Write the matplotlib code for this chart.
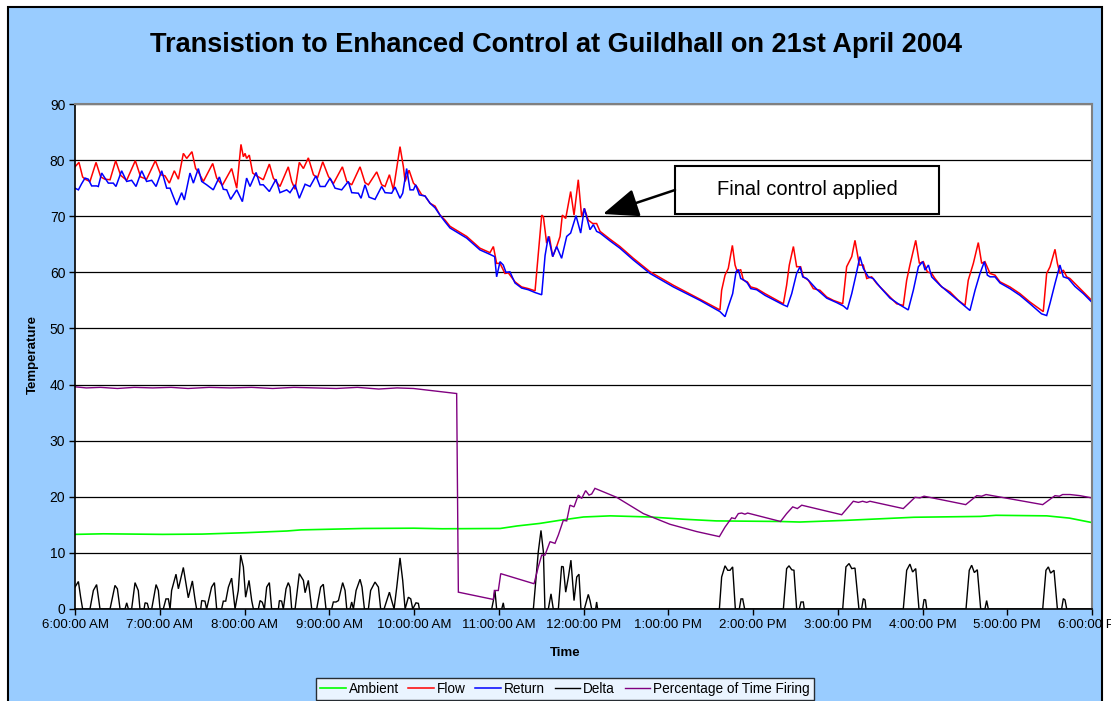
import matplotlib
matplotlib.use("Agg")
import matplotlib.pyplot as plt
import matplotlib.patches as mpatches

plt.rcParams["font.family"] = ["Liberation Sans", "DejaVu Sans"]

# time axis: minutes after 6:00 AM
HOUR_TICKS = [0, 60, 120, 180, 240, 300, 360, 420, 480, 540, 600, 660, 720]
HOUR_LABELS = [
    "6:00:00 AM", "7:00:00 AM", "8:00:00 AM", "9:00:00 AM", "10:00:00 AM",
    "11:00:00 AM", "12:00:00 PM", "1:00:00 PM", "2:00:00 PM", "3:00:00 PM",
    "4:00:00 PM", "5:00:00 PM", "6:00:00 PM",
]
TEMP_TICKS = [0, 10, 20, 30, 40, 50, 60, 70, 80, 90]

# (minute, value) pairs
ambient = [
    (0, 13.3), (20, 13.4), (62, 13.3), (90, 13.35), (121, 13.6), (150, 13.9),
    (160, 14.1), (204, 14.35), (240, 14.4), (260, 14.3), (301, 14.35),
    (313, 14.8), (329, 15.25), (343, 15.8), (360, 16.4), (379, 16.6),
    (407, 16.4), (431, 16.0), (454, 15.7), (499, 15.6), (513, 15.5),
    (546, 15.8), (594, 16.35), (641, 16.5), (652, 16.7), (688, 16.6),
    (704, 16.2), (720, 15.4),
]

flow = [
    (0.0, 78.8), (2.8, 79.6), (5.4, 77.0), (7.1, 76.6), (10.6, 76.2), (14.9, 79.6),
    (18.2, 77.0), (21.2, 76.6), (24.8, 76.5), (28.8, 79.9), (32.3, 77.3), (36.6, 76.4),
    (42.7, 79.9), (46.5, 77.0), (50.7, 76.6), (56.9, 79.9), (60.7, 77.4), (63.7, 77.2),
    (66.8, 75.9), (70.3, 78.1), (73.2, 76.6), (76.7, 81.2), (79.1, 80.3), (82.8, 81.5),
    (85.4, 78.5), (87.3, 77.9), (90.9, 76.2), (97.5, 79.4), (100.3, 76.8), (104.3, 75.5),
    (110.9, 78.5), (114.5, 75.0), (117.5, 82.8), (119.2, 80.6), (120.4, 81.2),
    (121.5, 80.3), (123.4, 80.9), (125.8, 77.7), (128.6, 77.2), (133.3, 76.5),
    (137.6, 79.3), (140.4, 76.8), (145.1, 75.3), (151.0, 78.8), (153.4, 76.2),
    (155.8, 74.8), (158.8, 79.6), (161.7, 78.5), (165.2, 80.4), (168.8, 77.4),
    (171.6, 76.8), (175.4, 79.7), (179.4, 77.1), (182.9, 75.8), (189.3, 78.8),
    (192.4, 76.2), (195.9, 75.6), (201.8, 78.8), (205.3, 76.0), (207.7, 75.6),
    (213.6, 77.9), (217.1, 75.6), (219.5, 75.3), (222.6, 77.4), (225.4, 74.7),
    (230.1, 82.4), (232.5, 78.8), (233.7, 76.2), (236.5, 78.2), (239.6, 75.9),
    (241.9, 75.3), (245.5, 73.8), (247.8, 73.6), (251.4, 72.3), (254.9, 71.8),
    (258.4, 70.2), (262.0, 69.3), (265.5, 68.2), (277.3, 66.4), (286.7, 64.3),
    (293.8, 63.5), (296.2, 64.6), (298.5, 61.6), (300.9, 61.6), (304.4, 59.8),
    (306.8, 59.9), (311.5, 58.3), (316.2, 57.4), (320.9, 57.1), (325.7, 56.7),
    (330.4, 70.2), (331.6, 69.9), (333.9, 65.2), (335.8, 66.4), (338.2, 62.8),
    (341.0, 64.6), (343.4, 66.4), (345.0, 70.2), (347.4, 69.6), (350.9, 74.4),
    (353.3, 70.2), (356.3, 76.5), (358.7, 69.9), (360.6, 71.4), (363.4, 69.3),
    (366.5, 68.7), (369.3, 68.7), (371.7, 67.3), (378.8, 65.9), (385.8, 64.6),
    (395.3, 62.5), (407.1, 60.1), (423.6, 57.7), (442.5, 55.2), (456.6, 53.3),
    (457.8, 56.8), (460.2, 59.5), (462.5, 60.7), (465.4, 64.8), (467.3, 61.3),
    (468.9, 60.1), (471.3, 60.5), (473.2, 58.6), (476.0, 58.3), (478.4, 57.4),
    (482.6, 57.1), (488.5, 56.2), (501.5, 54.4), (503.8, 57.7), (505.7, 61.3),
    (508.6, 64.6), (510.9, 61.0), (513.7, 61.0), (515.6, 59.2), (519.2, 58.6),
    (522.7, 57.1), (527.4, 56.8), (532.2, 55.6), (536.9, 55.0), (543.5, 54.4),
    (546.3, 61.0), (549.9, 62.8), (552.2, 65.7), (555.3, 61.3), (558.1, 61.3),
    (560.5, 58.9), (564.0, 59.2), (567.6, 58.0), (572.3, 56.8), (577.0, 55.6),
    (581.7, 54.4), (586.4, 54.1), (588.8, 58.6), (591.1, 61.3), (595.2, 65.7),
    (597.8, 61.6), (600.6, 61.9), (603.4, 60.1), (606.5, 59.8), (608.8, 58.9),
    (613.6, 57.4), (619.5, 56.5), (625.4, 55.0), (630.1, 54.1), (632.4, 58.6),
    (636.0, 61.6), (639.5, 65.3), (641.9, 61.6), (644.2, 61.9), (647.8, 59.8),
    (651.3, 59.5), (654.9, 58.3), (661.9, 57.4), (669.0, 56.2), (676.1, 54.7),
    (685.5, 53.0), (687.9, 59.8), (690.3, 61.0), (693.8, 64.1), (695.5, 61.6),
    (697.3, 59.8), (699.7, 60.4), (702.1, 59.2), (704.4, 58.9), (709.1, 57.7),
    (713.9, 56.5), (719.8, 55.0),
]

ret = [
    (0.0, 75.0), (2.4, 74.7), (4.7, 75.8), (7.1, 76.8), (9.4, 76.6), (11.8, 75.4),
    (15.3, 75.4), (16.5, 75.3), (18.9, 77.7), (21.2, 76.8), (23.6, 75.9), (27.1, 75.9),
    (29.0, 75.3), (33.0, 78.1), (36.6, 76.2), (40.1, 76.4), (43.2, 75.3), (47.2, 78.1),
    (50.7, 76.2), (54.3, 76.4), (57.4, 75.3), (61.4, 78.1), (64.9, 75.0), (67.3, 75.0),
    (69.6, 73.5), (72.0, 72.0), (75.5, 74.2), (77.4, 72.9), (81.4, 77.7), (83.8, 75.9),
    (87.3, 78.5), (89.7, 76.2), (93.2, 75.6), (97.9, 74.7), (102.2, 77.0), (105.0, 74.8),
    (107.4, 74.7), (110.2, 73.0), (114.5, 74.7), (118.5, 72.6), (121.5, 76.8),
    (123.9, 75.3), (128.2, 77.8), (131.0, 75.6), (133.3, 75.6), (137.6, 74.4),
    (142.3, 76.6), (145.1, 74.2), (149.9, 74.7), (152.2, 74.2), (155.8, 75.6),
    (158.8, 73.2), (162.9, 75.7), (166.4, 75.3), (170.6, 77.2), (173.5, 75.3),
    (177.0, 75.3), (180.6, 76.8), (184.1, 75.0), (188.8, 74.7), (193.5, 76.2),
    (195.9, 74.2), (200.6, 74.1), (202.5, 73.2), (205.3, 75.6), (208.2, 73.4),
    (212.4, 73.0), (217.1, 75.3), (219.5, 74.2), (224.2, 74.1), (226.6, 75.2),
    (230.1, 73.2), (232.0, 74.1), (234.8, 78.5), (237.2, 74.7), (239.6, 74.7),
    (241.2, 75.6), (243.8, 73.8), (247.8, 73.6), (251.4, 72.3), (254.9, 71.5),
    (258.4, 70.2), (262.0, 69.0), (265.5, 67.9), (277.3, 66.1), (286.7, 64.0),
    (293.8, 63.2), (297.1, 62.8), (298.5, 59.2), (300.9, 61.9), (303.2, 61.3),
    (305.1, 60.0), (307.9, 60.1), (311.5, 58.1), (316.2, 57.2), (320.9, 56.9),
    (325.7, 56.4), (330.4, 56.0), (332.8, 63.0), (335.1, 66.4), (338.2, 62.8),
    (341.0, 64.6), (344.5, 62.5), (348.1, 66.4), (350.9, 67.0), (354.7, 70.1),
    (358.0, 67.0), (360.6, 71.4), (362.2, 69.9), (364.6, 67.6), (367.0, 68.5),
    (369.3, 67.3), (371.7, 67.0), (378.8, 65.6), (385.8, 64.3), (395.3, 62.2),
    (407.1, 59.8), (423.6, 57.4), (442.5, 55.0), (456.6, 53.0), (460.2, 52.1),
    (462.5, 53.9), (465.6, 56.2), (468.0, 60.1), (469.6, 60.5), (471.3, 58.9),
    (473.7, 58.6), (476.0, 58.1), (478.4, 57.1), (482.6, 56.9), (488.5, 55.9),
    (501.5, 54.2), (504.3, 53.9), (507.4, 56.2), (510.9, 59.8), (513.3, 61.0),
    (515.2, 59.2), (518.0, 58.9), (520.3, 58.3), (525.0, 57.0), (532.2, 55.4),
    (539.3, 54.6), (544.0, 54.0), (546.8, 53.4), (549.9, 56.2), (553.4, 60.1),
    (555.7, 62.8), (558.1, 60.7), (561.6, 59.2), (565.1, 58.9), (569.9, 57.4),
    (577.0, 55.4), (584.0, 54.2), (589.9, 53.3), (593.5, 56.8), (597.1, 61.0),
    (600.1, 61.9), (601.8, 60.4), (604.2, 61.3), (606.5, 59.2), (612.4, 57.7),
    (619.5, 56.2), (626.6, 54.7), (633.6, 53.2), (637.2, 56.8), (640.7, 59.8),
    (643.8, 61.9), (645.9, 59.5), (647.8, 59.2), (651.3, 59.2), (654.9, 58.1),
    (661.9, 57.1), (669.0, 55.9), (676.1, 54.4), (684.3, 52.6), (687.9, 52.3),
    (690.3, 54.5), (693.8, 58.0), (697.3, 61.3), (699.7, 59.2), (703.2, 58.9),
    (707.9, 57.5), (713.9, 56.2), (719.8, 54.7),
]

delta = [
    (0.0, 3.9), (2.4, 4.9), (4.0, 2.1), (5.4, 0), (10.6, 0), (13.0, 3.3), (15.3, 4.35),
    (17.7, 0), (24.8, 0), (28.3, 4.2), (30.0, 3.6), (31.9, 0), (35.4, 0), (36.6, 1.1),
    (37.8, 0), (40.1, 0), (42.5, 4.7), (44.8, 3.3), (46.0, 0), (48.9, 0), (49.6, 1.1),
    (51.2, 1.0), (52.2, 0), (54.3, 0), (57.4, 4.35), (59.0, 3.3), (60.2, 0), (62.5, 0),
    (64.4, 1.8), (66.1, 1.8), (67.3, 0), (68.4, 3.3), (71.5, 6.2), (73.2, 3.6),
    (76.7, 7.4), (80.2, 2.0), (83.1, 5.0), (85.0, 1.6), (86.1, 0), (89.0, 0),
    (89.7, 1.5), (92.0, 1.4), (93.2, 0), (96.7, 3.9), (98.7, 4.7), (100.3, 0),
    (103.8, 0), (105.0, 1.4), (106.7, 1.4), (108.6, 3.9), (110.9, 5.5), (113.3, 0),
    (115.6, 3.3), (117.3, 9.6), (119.2, 7.5), (120.8, 2.1), (123.2, 5.1), (125.1, 1.5),
    (126.3, 0), (129.8, 0), (131.0, 1.5), (132.6, 1.2), (134.1, 0), (135.7, 3.9),
    (137.6, 4.7), (139.2, 0), (144.0, 0), (144.7, 1.5), (146.3, 1.4), (147.5, 0),
    (149.4, 3.6), (151.0, 4.7), (152.2, 3.9), (153.4, 0), (155.8, 0), (158.8, 6.3),
    (161.7, 5.1), (162.9, 2.9), (165.2, 5.1), (167.6, 0), (171.1, 0), (173.9, 3.9),
    (175.8, 4.4), (177.7, 0), (181.7, 0), (182.9, 1.25), (184.8, 1.25), (186.5, 1.5),
    (189.5, 4.7), (191.2, 3.3), (192.4, 0), (194.7, 0), (195.9, 1.25), (197.1, 0),
    (199.0, 3.3), (201.8, 5.3), (203.2, 3.9), (204.9, 0), (207.7, 0), (209.3, 3.3),
    (212.4, 4.8), (214.8, 3.9), (216.4, 0), (218.8, 0), (222.6, 3.0), (224.2, 1.5),
    (225.9, 0), (227.8, 3.9), (230.1, 9.1), (232.0, 5.1), (233.7, 0), (236.0, 2.1),
    (237.7, 1.8), (239.1, 0), (241.4, 1.1), (243.1, 1.0), (243.8, 0), (295.0, 0),
    (296.2, 1.5), (297.3, 3.3), (298.5, 0), (302.1, 0), (303.2, 1.1), (303.9, 0),
    (324.5, 0), (328.0, 10.2), (329.9, 14.0), (331.6, 10.2), (332.7, 0), (335.1, 0),
    (337.0, 2.7), (338.6, 0), (342.2, 0), (344.5, 7.6), (345.7, 7.5), (347.4, 3.0),
    (349.3, 5.7), (351.1, 8.7), (353.3, 1.5), (355.2, 5.7), (356.8, 6.2), (358.2, 0),
    (360.6, 0), (363.4, 2.6), (364.6, 1.5), (365.8, 0), (368.6, 0), (369.3, 1.25),
    (370.0, 0), (456.2, 0), (457.8, 5.7), (460.2, 7.7), (462.1, 6.9), (463.7, 6.9),
    (465.6, 7.5), (467.5, 0), (470.3, 0), (471.5, 1.8), (472.7, 1.8), (474.1, 0),
    (501.5, 0), (503.8, 7.2), (505.5, 7.7), (507.4, 7.0), (509.0, 6.9), (510.9, 0),
    (512.8, 0), (514.0, 1.25), (515.6, 1.25), (516.3, 0), (543.5, 0), (545.8, 7.5),
    (548.0, 8.1), (549.9, 7.2), (552.2, 7.3), (555.0, 0), (556.9, 0), (558.1, 1.85),
    (559.3, 1.6), (560.0, 0), (586.4, 0), (588.8, 6.9), (591.1, 8.0), (593.0, 6.6),
    (595.2, 7.2), (597.5, 0), (600.1, 0), (601.1, 1.7), (602.2, 1.6), (603.0, 0),
    (630.8, 0), (633.1, 6.9), (634.8, 7.8), (636.7, 6.5), (638.8, 7.0), (641.2, 0),
    (644.2, 0), (645.4, 1.5), (646.6, 0), (685.1, 0), (687.4, 6.9), (689.1, 7.5),
    (690.7, 6.4), (693.1, 6.9), (695.5, 0), (698.5, 0), (699.7, 1.85), (700.9, 1.6),
    (702.1, 0), (720, 0),
]

firing = [
    (0, 39.6), (8, 39.4), (18, 39.5), (30, 39.3), (42, 39.5), (55, 39.4), (68, 39.5),
    (80, 39.3), (95, 39.5), (110, 39.4), (125, 39.5), (140, 39.3), (155, 39.5),
    (170, 39.4), (185, 39.3), (200, 39.5), (215, 39.2), (228, 39.4), (239.6, 39.3),
    (270.2, 38.4), (271.4, 3.0), (296.2, 1.7), (296.9, 3.3), (299.7, 3.3), (301.4, 6.3),
    (325.0, 4.5), (328.0, 7.5), (330.4, 9.6), (332.7, 9.6), (336.3, 12.0),
    (339.8, 11.7), (342.2, 13.2), (345.7, 15.8), (348.1, 15.7), (350.4, 18.5),
    (353.3, 18.2), (356.3, 20.3), (358.7, 19.7), (361.5, 21.1), (363.9, 20.3),
    (365.8, 20.5), (368.1, 21.5), (383.5, 19.9), (402.4, 17.0), (421.2, 15.1),
    (440.1, 13.8), (456.2, 12.9), (460.2, 14.6), (464.9, 16.25), (467.3, 16.1),
    (469.6, 17.0), (472.0, 17.1), (474.3, 16.9), (476.2, 17.1), (499.5, 15.6),
    (503.8, 17.0), (508.1, 18.2), (511.4, 17.9), (514.5, 18.5), (542.8, 16.8),
    (551.0, 19.2), (554.6, 19.0), (557.6, 19.2), (560.5, 19.0), (562.8, 19.2),
    (586.4, 17.9), (594.7, 19.9), (598.2, 19.8), (601.1, 20.1), (630.6, 18.6),
    (638.4, 20.2), (641.9, 20.1), (645.0, 20.4), (685.1, 18.6), (693.8, 20.2),
    (696.9, 20.1), (699.2, 20.4), (704.4, 20.4), (711.5, 20.2), (719.8, 19.8),
]

SERIES = [
    ("Ambient", ambient, "#00ff00", 1.2),
    ("Flow", flow, "#ff0000", 1.1),
    ("Return", ret, "#0000ff", 1.1),
    ("Delta", delta, "#000000", 1.0),
    ("Percentage of Time Firing", firing, "#800080", 1.0),
]

fig = plt.figure(figsize=(11.11, 7.01), dpi=100)
fig.patch.set_facecolor("white")

# light blue chart area with black border
chart_bg = mpatches.Rectangle(
    (8 / 1111, -0.05), (1102 - 8) / 1111, 1.05 - 7 / 701,
    transform=fig.transFigure, facecolor="#99ccff", edgecolor="black",
    linewidth=1.5, zorder=-10,
)
fig.patches.append(chart_bg)

ax = fig.add_axes([75 / 1111, 92 / 701, 1017 / 1111, 505 / 701])
ax.set_facecolor("white")

for name, pts, color, lw in SERIES:
    xs = [p[0] for p in pts]
    ys = [p[1] for p in pts]
    ax.plot(xs, ys, color=color, lw=lw, label=name, solid_joinstyle="miter")

ax.set_xlim(0, 720)
ax.set_ylim(0, 90)
ax.set_xticks(HOUR_TICKS)
ax.set_xticklabels(HOUR_LABELS, fontsize=9.5)
ax.set_yticks(TEMP_TICKS)
ax.set_yticklabels([str(t) for t in TEMP_TICKS], fontsize=10)
ax.tick_params(axis="both", direction="out", length=4, width=1, pad=3, colors="black")
ax.yaxis.grid(True, color="black", lw=0.9)
ax.set_axisbelow(True)

ax.spines["left"].set_color("black")
ax.spines["bottom"].set_color("black")
ax.spines["left"].set_linewidth(1.2)
ax.spines["bottom"].set_linewidth(1.2)
ax.spines["top"].set_color("#808080")
ax.spines["right"].set_color("#808080")
ax.spines["top"].set_linewidth(1.5)
ax.spines["right"].set_linewidth(1.5)
ax.spines["top"].set_zorder(5)

fig.text(0.5, 1 - 45 / 701, "Transistion to Enhanced Control at Guildhall on 21st April 2004",
         ha="center", va="center", fontsize=19.5, fontweight="bold")
fig.text(33 / 1111, 1 - 355 / 701, "Temperature", rotation=90,
         ha="center", va="center", fontsize=9.5, fontweight="bold")
fig.text(565 / 1111, 1 - 653 / 701, "Time", ha="center", va="center",
         fontsize=9.5, fontweight="bold")

# annotation box + arrow
bx0, bx1 = (675 - 75) / 1017, (939 - 75) / 1017
by0, by1 = (609 - 214) / 505, (609 - 166) / 505
box = mpatches.Rectangle((bx0, by0), bx1 - bx0, by1 - by0, transform=ax.transAxes,
                         facecolor="white", edgecolor="black", lw=1.5, zorder=6)
ax.add_patch(box)
ax.text((bx0 + bx1) / 2, (by0 + by1) / 2, "Final control applied", transform=ax.transAxes,
        ha="center", va="center", fontsize=14.5, zorder=7)
ax.annotate("", xy=((603 - 75) / 1017, (609 - 214) / 505), xycoords="axes fraction",
            xytext=(bx0, (609 - 190) / 505), textcoords="axes fraction",
            arrowprops=dict(arrowstyle="-|>,head_length=0.55,head_width=0.22",
                            mutation_scale=40, lw=1.8, color="black",
                            shrinkA=0, shrinkB=0),
            zorder=7)

leg = fig.legend(loc="center", bbox_to_anchor=(565 / 1111, 1 - 689 / 701), ncol=5,
                 fontsize=9.8, frameon=True, fancybox=False, edgecolor="black",
                 handlelength=1.9, handletextpad=0.2, columnspacing=0.7,
                 borderpad=0.3, borderaxespad=0)
leg.get_frame().set_linewidth(1.0)

fig.savefig("out.png", dpi=100)
